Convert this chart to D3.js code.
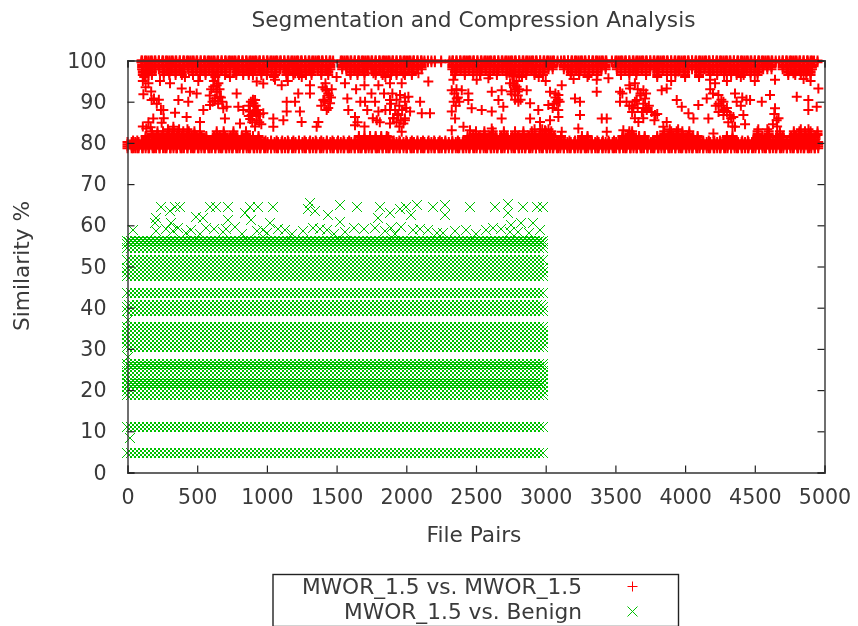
<!DOCTYPE html>
<html>
<head>
<meta charset="utf-8">
<script src="https://cdn.jsdelivr.net/npm/d3@7"></script>
<style>
  body { margin: 0; background: #fff; }
  svg { display: block; filter: blur(0.3px); }
  text { font-family: "DejaVu Sans", sans-serif; fill: #3a3a3a; }
</style>
</head>
<body>
<div id="grafico"></div>
<script>
// Values. The dense rows are overplotted beyond reading single
// points, so each one is stored as a y level plus the x positions seen along it.
const xTicks = [0, 500, 1000, 1500, 2000, 2500, 3000, 3500, 4000, 4500, 5000];
const yTicks = [0, 10, 20, 30, 40, 50, 60, 70, 80, 90, 100];
const seriesNames = ['MWOR_1.5 vs. MWOR_1.5', 'MWOR_1.5 vs. Benign'];

// red: lower edge of the top band and floor of the bottom band
const redFloorX = [0, 30, 55, 80, 105, 130, 155, 180, 205, 230, 255, 280, 305, 330, 355, 380, 405, 430, 455, 480, 505, 530, 555, 580, 605, 630, 655, 680, 705, 730, 755, 780, 805, 830, 855, 880, 905, 930, 955, 980, 1005, 1030, 1055, 1080, 1105, 1130, 1155, 1180, 1205, 1230, 1255, 1280, 1305, 1330, 1355, 1380, 1405, 1430, 1455, 1480, 1505, 1530, 1555, 1580, 1605, 1630, 1655, 1680, 1705, 1730, 1755, 1780, 1805, 1830, 1855, 1880, 1905, 1930, 1955, 1980, 2005, 2030, 2055, 2080, 2105, 2130, 2155, 2180, 2205, 2230, 2255, 2280, 2305, 2330, 2355, 2380, 2405, 2430, 2455, 2480, 2505, 2530, 2555, 2580, 2605, 2630, 2655, 2680, 2705, 2730, 2755, 2780, 2805, 2830, 2855, 2880, 2905, 2930, 2955, 2980, 3005, 3030, 3055, 3080, 3105, 3130, 3155, 3180, 3205, 3230, 3255, 3280, 3305, 3330, 3355, 3380, 3405, 3430, 3455, 3480, 3505, 3530, 3555, 3580, 3605, 3630, 3655, 3680, 3705, 3730, 3755, 3780, 3805, 3830, 3855, 3880, 3905, 3930, 3955, 3980, 4005, 4030, 4055, 4080, 4105, 4130, 4155, 4180, 4205, 4230, 4255, 4280, 4305, 4330, 4355, 4380, 4405, 4430, 4455, 4480, 4505, 4530, 4555, 4580, 4605, 4630, 4655, 4680, 4705, 4730, 4755, 4780, 4805, 4830, 4855, 4880, 4905, 4930, 4955];
const redRow80 = [40, 70, 110, 150, 190, 230, 270, 310, 350, 390, 430, 470, 510, 550, 590, 630, 670, 710, 750, 790, 830, 870, 910, 950, 990, 1030, 1070, 1110, 1150, 1190, 1230, 1270, 1310, 1350, 1390, 1430, 1470, 1510, 1550, 1590, 1630, 1670, 1710, 1750, 1790, 1830, 1870, 1910, 1950, 2000, 2040, 2080, 2120, 2160, 2200, 2240, 2280, 2330, 2370, 2410, 2450, 2490, 2530, 2570, 2610, 2650, 2690, 2730, 2770, 2810, 2850, 2890, 2930, 2970, 3010, 3050, 3090, 3130, 3170, 3210, 3250, 3290, 3330, 3370, 3410, 3450, 3490, 3530, 3570, 3610, 3650, 3690, 3730, 3770, 3810, 3850, 3890, 3930, 3970, 4010, 4050, 4090, 4130, 4170, 4210, 4250, 4290, 4330, 4370, 4410, 4450, 4490, 4530, 4570, 4610, 4650, 4690, 4730, 4770, 4810, 4850, 4890, 4930];
const redRow81 = [130, 180, 215, 250, 285, 320, 355, 390, 425, 460, 495, 530, 565, 620, 660, 700, 740, 780, 820, 860, 900, 940, 1660, 1700, 1740, 1780, 1820, 1860, 2440, 2480, 2520, 2560, 2600, 2640, 2680, 2720, 2760, 2800, 2840, 2880, 2920, 2955, 2990, 3025, 3060, 3110, 3260, 3300, 3550, 3590, 3630, 3670, 3710, 3800, 3840, 3880, 3915, 3950, 3985, 4020, 4055, 4090, 4300, 4340, 4520, 4555, 4590, 4660, 4700, 4760, 4795, 4830, 4865, 4900, 4935];
const redRow82 = [175, 215, 255, 295, 330, 365, 400, 440, 480, 520, 640, 690, 760, 850, 2500, 2560, 2620, 2700, 2780, 2840, 2900, 2960, 3000, 3040, 3600, 3620, 3850, 3900, 3940, 3980, 4030, 4520, 4600, 4680, 4780, 4820, 4860, 4900, 4950];
const redRow83 = [290, 330, 370, 430, 2920, 2975, 3020, 3890, 3950, 4525, 4590, 4830, 4885];
const redTopX = [100, 125, 150, 175, 200, 225, 250, 275, 300, 325, 350, 375, 400, 425, 450, 475, 500, 525, 550, 575, 600, 625, 650, 675, 700, 725, 750, 775, 800, 825, 850, 875, 900, 925, 950, 975, 1000, 1025, 1050, 1075, 1100, 1125, 1150, 1175, 1200, 1225, 1250, 1275, 1300, 1325, 1350, 1375, 1400, 1425, 1450, 1475, 1530, 1555, 1580, 1605, 1630, 1655, 1680, 1705, 1730, 1755, 1780, 1805, 1830, 1855, 1880, 1905, 1930, 1955, 1980, 2005, 2030, 2055, 2080, 2105, 2130, 2155, 2180, 2205, 2250, 2310, 2335, 2360, 2385, 2410, 2435, 2460, 2485, 2510, 2535, 2560, 2585, 2610, 2635, 2660, 2685, 2710, 2735, 2760, 2785, 2810, 2835, 2860, 2885, 2910, 2935, 2960, 2985, 3010, 3035, 3060, 3085, 3110, 3135, 3160, 3185, 3210, 3235, 3260, 3285, 3310, 3335, 3360, 3385, 3410, 3435, 3475, 3500, 3525, 3550, 3575, 3600, 3625, 3650, 3675, 3700, 3725, 3750, 3775, 3800, 3825, 3850, 3875, 3900, 3925, 3950, 3975, 4000, 4025, 4050, 4075, 4100, 4125, 4150, 4175, 4200, 4225, 4250, 4275, 4300, 4325, 4350, 4375, 4400, 4425, 4450, 4475, 4500, 4525, 4550, 4575, 4600, 4625, 4650, 4675, 4700, 4725, 4750, 4775, 4800, 4825, 4850, 4875, 4900, 4925, 4950];
const redRow98 = [105, 135, 165, 195, 225, 255, 285, 315, 345, 375, 405, 435, 465, 495, 525, 555, 585, 615, 645, 675, 705, 735, 765, 795, 825, 855, 885, 915, 945, 975, 1005, 1035, 1065, 1095, 1125, 1155, 1185, 1215, 1245, 1275, 1305, 1335, 1365, 1395, 1425, 1455, 1540, 1570, 1600, 1630, 1660, 1690, 1720, 1750, 1780, 1810, 1840, 1870, 1900, 1930, 1960, 1990, 2020, 2050, 2080, 2110, 2330, 2360, 2390, 2420, 2450, 2480, 2510, 2540, 2570, 2600, 2630, 2660, 2690, 2720, 2750, 2780, 2810, 2840, 2870, 2900, 2930, 2960, 2990, 3020, 3050, 3130, 3160, 3190, 3220, 3250, 3280, 3310, 3340, 3370, 3400, 3430, 3510, 3540, 3570, 3600, 3630, 3660, 3690, 3720, 3750, 3780, 3810, 3840, 3870, 3900, 3930, 3960, 3990, 4020, 4050, 4080, 4110, 4140, 4170, 4200, 4230, 4260, 4290, 4320, 4350, 4380, 4410, 4440, 4470, 4500, 4530, 4560, 4590, 4620, 4700, 4730, 4760, 4790, 4820, 4850, 4880, 4910];
const redRow97 = [110, 130, 150, 175, 260, 300, 345, 390, 470, 520, 560, 610, 650, 700, 780, 830, 870, 900, 960, 1000, 1060, 1140, 1190, 1230, 1280, 1320, 1390, 1440, 1600, 1650, 1700, 1780, 1830, 1890, 1930, 1990, 2040, 2350, 2420, 2480, 2530, 2600, 2650, 2720, 2770, 2810, 2860, 2920, 2980, 3180, 3240, 3310, 3370, 3540, 3600, 3650, 3720, 3800, 3870, 3930, 4000, 4100, 4180, 4230, 4280, 4330, 4370, 4420, 4470, 4520, 4740, 4790, 4830, 4870, 4900];
// red: single points in the open middle of the plot
const redScatterX = [114, 173, 185, 166, 233, 257, 341, 424, 245, 329, 520, 508, 412, 305, 389, 448, 496, 365, 436, 544, 592, 616, 640, 652, 628, 687, 699, 711, 783, 795, 807, 831, 879, 915, 903, 891, 927, 974, 1046, 1046, 1118, 1142, 1202, 1237, 1249, 1225, 1142, 1309, 1309, 1357, 1369, 1429, 1405, 1453, 1429, 1560, 1577, 1584, 1632, 1632, 1704, 735, 927, 974, 1058, 1106, 1202, 1764, 1895, 1883, 1967, 1979, 2087, 2158, 1955, 2015, 1883, 1776, 2099, 1991, 2027, 1800, 1883, 1943, 2111, 2170, 1788, 1883, 1979, 1967, 1871, 2338, 2350, 2326, 2362, 2398, 2445, 2445, 2326, 2350, 2326, 2410, 2457, 2505, 2589, 2529, 2613, 2684, 2661, 2696, 2804, 2469, 2541, 2613, 2684, 2613, 2768, 2792, 2744, 2864, 3031, 3091, 3079, 2888, 2947, 2888, 2959, 3019, 3031, 3091, 2995, 3115, 3115, 3210, 3246, 3246, 3234, 3366, 3366, 3402, 3438, 3450, 3533, 3605, 3701, 3533, 3653, 3713, 3629, 3725, 3784, 3665, 3832, 3868, 3868, 3844, 3940, 3976, 4024, 4060, 4095, 4155, 4239, 4215, 4179, 4275, 4167, 4275, 4358, 4346, 4418, 4466, 4550, 4609, 4645, 4645, 4657, 4801, 4884, 4884, 4956, 4944, 3952, 4203, 3438, 3557, 4358, 4777, 2780, 2800, 2770, 2756, 3070, 3090, 3060, 3680, 3640, 3620, 3700, 3660, 3720, 3690, 1420, 1445, 1410, 910, 925, 940, 895, 880, 640, 660, 625, 4240, 4260, 4280, 4300, 4320, 4330, 1960, 1935, 1990, 1905];
const redScatterY = [91.8, 90.4, 85.9, 83.8, 95, 88, 87.3, 86.3, 84.9, 83.9, 85.1, 95, 96, 94.5, 93.2, 92.4, 92, 90.4, 90, 88, 89.2, 93.6, 92.4, 94.5, 90.8, 88.4, 85.9, 88.8, 92, 88.8, 84.7, 88, 87.6, 90.4, 89.6, 86.8, 85.5, 87.2, 85.9, 83.9, 85.5, 90, 90, 87.6, 85.1, 92, 87.6, 94, 92, 83.9, 85.1, 92.8, 90.4, 89.6, 88, 94.5, 90.8, 88, 86.3, 84.3, 90, 96, 94.9, 94.4, 95.3, 94, 96.9, 96.9, 97.3, 94.5, 94.5, 96.9, 96.9, 94.9, 91.6, 91.2, 90.4, 90, 90, 90, 87.6, 87.6, 88, 86.8, 87.2, 87.2, 85.5, 84.7, 84.7, 82.7, 81.5, 95.3, 97.3, 92.8, 90.8, 92.8, 92, 90.4, 87.6, 85.9, 83.1, 83.9, 83.1, 95.3, 95.7, 96.5, 92.4, 92.8, 90.4, 88.8, 90, 88.4, 88, 87.6, 85.9, 83.5, 96.1, 93.6, 94.5, 92.8, 92.4, 91.6, 90, 89.6, 88, 85.9, 85.1, 89.2, 85.5, 86.3, 83.1, 82.7, 94, 90.8, 90, 86.8, 83.5, 92.4, 95.3, 85.9, 82.7, 95.7, 92.4, 93.2, 92.8, 90, 90.4, 90.8, 88.4, 88, 86.8, 85.1, 92.8, 93.2, 85.1, 83.9, 90.4, 88.8, 87.2, 85.9, 89.2, 90.8, 91.6, 94.5, 95.3, 90, 85.9, 86.8, 92, 86.3, 86.8, 90.4, 90, 91.6, 95.3, 88.4, 85.5, 91.2, 90.4, 88, 93.2, 88.8, 97.3, 82.3, 85.9, 83.1, 83.9, 96.9, 93, 92.5, 94, 91.8, 91, 90.5, 89.5, 91.5, 90, 89, 89.5, 88.5, 88.5, 87.5, 93, 91.5, 90.5, 89, 88, 87, 86.5, 85.8, 92.5, 91.2, 90.2, 89.5, 89, 88, 87.5, 86.8, 86, 85.5, 87, 85.5, 86, 84.8];
// red: further points inside the visible clusters
const redClusterX = [110, 130, 150, 170, 120, 190, 210, 225, 240, 260, 150, 135, 110, 600, 620, 640, 660, 670, 610, 590, 650, 680, 630, 870, 885, 900, 920, 935, 950, 870, 895, 915, 945, 905, 925, 960, 1400, 1420, 1440, 1460, 1415, 1440, 1465, 1390, 1640, 1700, 1750, 1670, 1720, 1650, 1700, 1760, 1800, 1840, 1850, 1810, 1900, 1930, 1950, 1970, 1990, 1910, 1930, 1950, 1990, 2000, 1920, 1890, 2340, 2355, 2370, 2345, 2360, 2380, 2750, 2770, 2790, 2810, 2830, 2760, 2800, 2780, 2740, 2820, 3050, 3070, 3090, 3100, 3550, 3580, 3600, 3620, 3640, 3660, 3680, 3700, 3720, 3740, 3760, 3780, 3800, 3600, 3640, 4180, 4200, 4220, 4240, 4260, 4300, 4310, 4340, 4370, 4400, 4430, 4410, 4440, 4640, 4670, 4630, 4660, 1050, 1150, 1250, 1500, 1850, 2950, 3000, 3200, 3300, 3800, 3900, 4000, 4100, 4300, 4400, 4500, 4850, 4900];
const redClusterY = [95, 93.5, 94.5, 92.5, 96, 90.8, 89.5, 90.5, 88, 86, 85, 83.5, 84, 93, 95, 94, 93, 91, 90, 91.5, 89.5, 90, 96, 89, 90, 90.5, 89, 88, 87, 86.5, 85, 84, 85, 87.5, 86.5, 84.5, 93.5, 94.5, 92, 91, 90, 88.5, 93, 89, 93, 94, 92, 90, 88, 85, 84, 86, 94, 92, 88, 85, 92, 90.5, 89, 88, 91, 86, 85, 84, 86, 88.5, 88, 89.5, 90, 89, 91, 92, 93, 90, 92.5, 94.5, 95, 93, 96, 96.5, 91.5, 90.5, 97, 90.5, 88.5, 92, 88, 90, 92, 90, 89, 87.5, 86, 93, 92, 86, 92, 89, 87.5, 85.5, 87, 94, 94.5, 93, 92, 89, 87.5, 90.5, 88.5, 85, 84, 90, 89, 84.5, 91, 90.5, 87, 86, 84.5, 84, 96, 95, 96, 96, 96, 96, 95, 95.5, 96, 96, 95, 96, 96, 95, 96, 95, 95.5, 95];

// green: rows across the whole 0-3000 range
const bandX = [0, 29, 57, 86, 115, 144, 172, 201, 230, 258, 287, 316, 344, 373, 402, 431, 459, 488, 517, 545, 574, 603, 631, 660, 689, 718, 746, 775, 804, 832, 861, 890, 918, 947, 976, 1005, 1033, 1062, 1091, 1119, 1148, 1177, 1205, 1234, 1263, 1292, 1320, 1349, 1378, 1406, 1435, 1464, 1492, 1521, 1550, 1579, 1607, 1636, 1665, 1693, 1722, 1751, 1779, 1808, 1837, 1866, 1894, 1923, 1952, 1980, 2009, 2038, 2066, 2095, 2124, 2153, 2181, 2210, 2239, 2267, 2296, 2325, 2353, 2382, 2411, 2440, 2468, 2497, 2526, 2554, 2583, 2612, 2640, 2669, 2698, 2727, 2755, 2784, 2813, 2841, 2870, 2899, 2927, 2956, 2985];
const bandLevels = [4.6, 10.9, 18.7, 19.7, 20.7, 21.6, 22.6, 23.6, 24.5, 25.5, 26.2, 30.4, 31.3, 32.3, 33.3, 34.3, 35.2, 39.1, 40.1, 43.6, 47.6, 48.6, 49.6, 51.5, 54.4, 55.4, 56.1];
const denseX = [14, 43, 71, 100, 129, 158, 186, 215, 244, 272, 301, 330, 358, 387, 416, 445, 473, 502, 531, 559, 588, 617, 645, 674, 703, 732, 760, 789, 818, 846, 875, 904, 932, 961, 990, 1019, 1047, 1076, 1105, 1133, 1162, 1191, 1219, 1248, 1277, 1306, 1334, 1363, 1392, 1420, 1449, 1478, 1506, 1535, 1564, 1593, 1621, 1650, 1679, 1707, 1736, 1765, 1793, 1822, 1851, 1880, 1908, 1937, 1966, 1994, 2023, 2052, 2080, 2109, 2138, 2167, 2195, 2224, 2253, 2281, 2310, 2339, 2367, 2396, 2425, 2454, 2482, 2511, 2540, 2568, 2597, 2626, 2654, 2683, 2712, 2741, 2769, 2798, 2827, 2855, 2884, 2913, 2941, 2970];
const denseLevels = [20.2, 21.5, 33.8, 34.8, 39.6, 40.5, 48.1, 49.1, 54.9, 55.9];
// green: single points above the bands and along the left edge
const greenScatterX = [245, 305, 341, 377, 209, 197, 317, 365, 42, 209, 281, 496, 544, 460, 568, 592, 640, 723, 723, 711, 879, 939, 843, 891, 1046, 1022, 974, 1130, 1309, 1297, 1345, 1333, 1440, 1430, 1524, 1649, 1811, 1883, 1955, 2039, 2003, 2075, 2194, 2278, 2278, 2457, 2636, 2732, 2732, 2840, 2936, 2983, 1524, 1625, 1799, 1775, 1895, 1967, 2050, 2158, 2266, 2433, 2577, 2624, 2756, 2828, 2911, 2959, 2744, 18, 5, 5, 330, 420, 520, 620, 690, 770, 820, 930, 1000, 1080, 1180, 1260, 1380, 1480, 1560, 1700, 1850, 1920, 2100, 2220, 2350, 2500, 2680, 2800, 2880];
const greenScatterY = [64.5, 63.3, 64.5, 64.5, 61.6, 60.4, 60.4, 59.2, 58.8, 58.5, 59, 62, 61.6, 58.8, 59.2, 64.5, 64.5, 64.5, 61.2, 59, 64.5, 64.5, 62.9, 61.2, 64.5, 60.4, 58.8, 58.8, 65.3, 64, 63.5, 59.2, 62.4, 58.8, 64.8, 64.5, 64.5, 63, 63.8, 62.5, 64.5, 64.8, 64.5, 64.8, 62.5, 64.5, 64.5, 65, 63, 64.5, 64.5, 64.5, 60.7, 59.2, 61.7, 59.2, 59.2, 59.5, 58.8, 58.8, 58, 58.8, 58.8, 59.2, 60, 60.4, 60.4, 58.8, 58.4, 8.2, 28, 37, 58.5, 58, 57.8, 59, 58.2, 59.5, 57.8, 58.5, 58, 59, 57.8, 58.5, 59, 57.8, 58.2, 59, 58.5, 57.8, 59, 58, 58.5, 57.8, 59, 58.2, 58];

const largura = 858;
const altura = 626;
const margem = { topo: 60.5, direita: 33.5, baixo: 153.5, esquerda: 127.5 };

const svg = d3.select('#grafico')
              .append('svg')
              .attr('width', largura)
              .attr('height', altura);

const escalaX = d3.scaleLinear().domain([0, 5000]).range([margem.esquerda, largura - margem.direita]);
const escalaY = d3.scaleLinear().domain([0, 100]).range([altura - margem.baixo, margem.topo]);

const plusPath = 'M-5,0H5M0,-5V5';
const crossPath = 'M-5,-5L5,5M-5,5L5,-5';

const pontosVermelhos = [].concat(
    d3.cross(redFloorX, [78.7, 79.2, 79.7, 80.2]), d3.cross(redRow80, [78.7, 79.4, 80, 80.6]),
    d3.cross(redRow81, [80.9, 81.3, 81.7]), d3.cross(redRow82, [81.9, 82.3, 82.8]), d3.cross(redRow83, [83.3]),
    d3.cross(redTopX, [100, 99.6]), d3.cross(redRow98, [100, 99.5, 98.9, 98.4, 97.9]), d3.cross(redRow97, [97.4, 97, 96.5]),
    redScatterX.map((x, i) => [x, redScatterY[i]]),
    redClusterX.map((x, i) => [x, redClusterY[i]])
);

const pontosVerdes = [].concat(
    d3.cross(bandX, bandLevels),
    d3.cross(denseX, denseLevels),
    greenScatterX.map((x, i) => [x, greenScatterY[i]])
);

function desenharPontos(pontos, caminho, cor, espessura, nitido) {
    // o verde fica alinhado a pixels, como a malha do original
    const posicao = nitido ? (v => Math.floor(v + 0.25)) : (v => v);
    svg.append('g')
       .selectAll('path')
       .data(pontos)
       .join('path')
       .attr('transform', d => `translate(${posicao(escalaX(d[0]))},${posicao(escalaY(d[1]))})`)
       .attr('d', caminho)
       .attr('fill', 'none')
       .attr('stroke', cor)
       .attr('stroke-width', espessura)
       .attr('shape-rendering', nitido ? 'crispEdges' : 'auto');
}

desenharPontos(pontosVermelhos, plusPath, '#ff0000', 2, false);
desenharPontos(pontosVerdes, crossPath, '#00c000', 1, true);

// Eixos: ticks for dentro nos quatro lados
const yBase = altura - margem.baixo;
const xFim = largura - margem.direita;

const eixoBaixo = svg.append('g').attr('transform', `translate(0,${yBase})`)
    .call(d3.axisBottom(escalaX).tickValues(xTicks).tickFormat(d3.format('d')).tickSize(-7).tickPadding(17));
const eixoEsq = svg.append('g').attr('transform', `translate(${margem.esquerda},0)`)
    .call(d3.axisLeft(escalaY).tickValues(yTicks).tickSize(-7).tickPadding(21));
const eixoTopo = svg.append('g').attr('transform', `translate(0,${margem.topo})`)
    .call(d3.axisTop(escalaX).tickValues(xTicks).tickSize(-7).tickFormat(''));
const eixoDir = svg.append('g').attr('transform', `translate(${xFim},0)`)
    .call(d3.axisRight(escalaY).tickValues(yTicks).tickSize(-7).tickFormat(''));

[eixoBaixo, eixoEsq, eixoTopo, eixoDir].forEach(g => {
    g.select('.domain').attr('stroke', '#333').attr('stroke-width', 1.4);
    g.selectAll('.tick line').attr('stroke', '#222').attr('stroke-width', 1.2);
    g.selectAll('text').style('font-size', '20.6px').attr('fill', '#3a3a3a');
});

// Títulos
svg.append('text').attr('x', 473.5).attr('y', 27).attr('text-anchor', 'middle')
   .style('font-size', '21.7px').text('Segmentation and Compression Analysis');
svg.append('text').attr('x', 474).attr('y', 542).attr('text-anchor', 'middle')
   .style('font-size', '21.7px').text('File Pairs');
svg.append('text').attr('transform', 'translate(29,266) rotate(-90)').attr('text-anchor', 'middle')
   .style('font-size', '21.7px').text('Similarity %');

// Legenda
svg.append('rect').attr('x', 273).attr('y', 574.5).attr('width', 405.5).attr('height', 52)
   .attr('fill', 'none').attr('stroke', '#222').attr('stroke-width', 1.4);
seriesNames.forEach((nome, i) => {
    const y = 586.5 + i * 25;
    svg.append('text').attr('x', 582).attr('y', y + 7).attr('text-anchor', 'end')
       .style('font-size', '21.7px').text(nome);
    svg.append('path').attr('transform', `translate(632.5,${y})`)
       .attr('d', i === 0 ? plusPath : crossPath)
       .attr('fill', 'none')
       .attr('stroke', i === 0 ? '#ff0000' : '#00c000')
       .attr('stroke-width', 1);
});
</script>
</body>
</html>
